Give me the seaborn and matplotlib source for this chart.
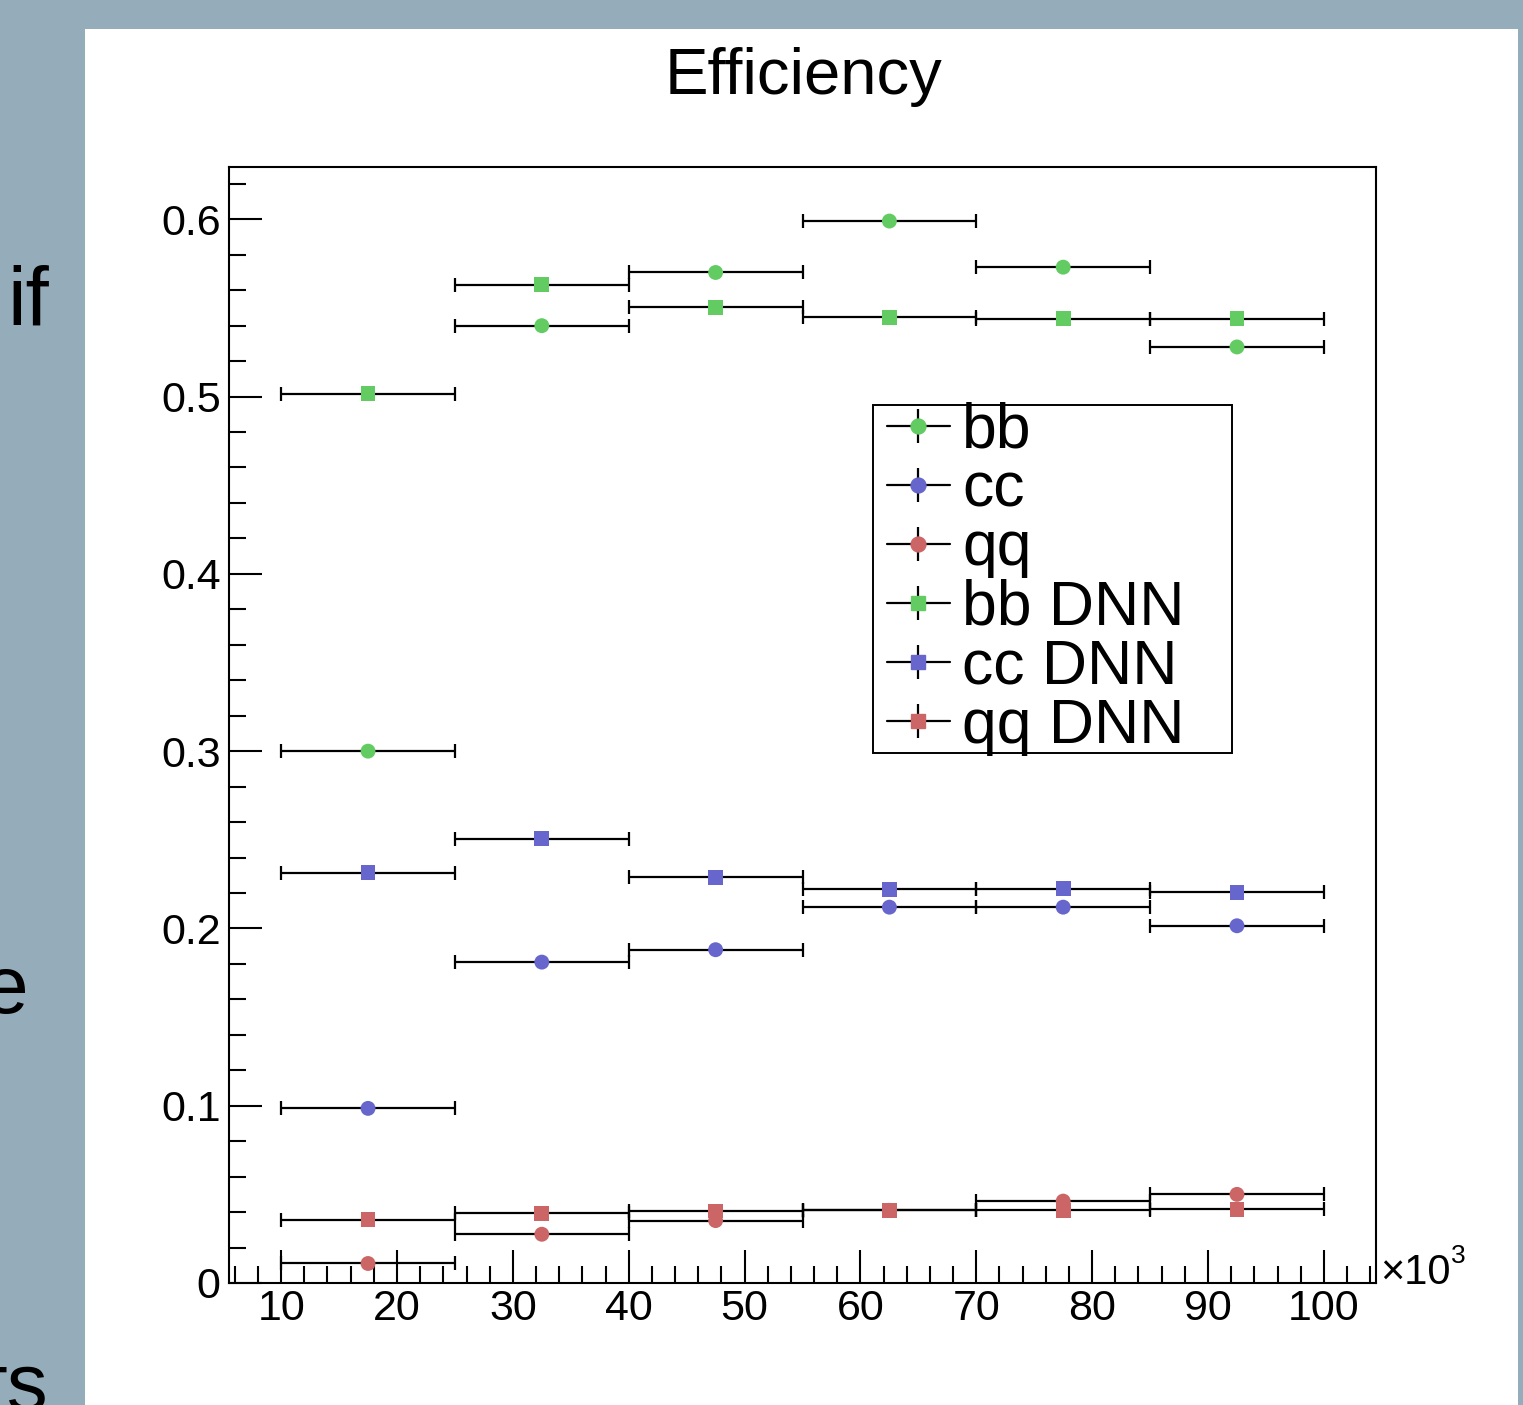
import numpy as np
import pandas as pd
import matplotlib.pyplot as plt
import seaborn as sns
from matplotlib.lines import Line2D
from matplotlib.patches import Rectangle
from matplotlib.legend_handler import HandlerTuple
from matplotlib.ticker import MultipleLocator, FuncFormatter

sns.set_theme(style='white')
plt.rcParams['font.family'] = ['Liberation Sans', 'DejaVu Sans']
plt.rcParams['text.color'] = 'black'

# x in units of 10^3
bin_edges = [10, 25, 40, 55, 70, 85, 100]

eff_bb = [0.300, 0.540, 0.570, 0.599, 0.573, 0.528]
eff_cc = [0.0985, 0.181, 0.188, 0.212, 0.212, 0.2015]
eff_qq = [0.011, 0.0275, 0.0352, 0.041, 0.0462, 0.0500]
eff_bb_dnn = [0.5015, 0.563, 0.5505, 0.5447, 0.544, 0.544]
eff_cc_dnn = [0.2315, 0.2507, 0.2289, 0.2222, 0.2224, 0.2204]
eff_qq_dnn = [0.0358, 0.0394, 0.0406, 0.0409, 0.0409, 0.0415]

labels = ['bb', 'cc', 'qq', 'bb DNN', 'cc DNN', 'qq DNN']
samples = ['bb', 'cc', 'qq', 'bb', 'cc', 'qq']
methods = ['cut', 'cut', 'cut', 'DNN', 'DNN', 'DNN']
series = [eff_bb, eff_cc, eff_qq, eff_bb_dnn, eff_cc_dnn, eff_qq_dnn]
colors = {'bb': '#62cc62', 'cc': '#6666cc', 'qq': '#cc6666'}
markers = {'cut': 'o', 'DNN': 's'}

edges = np.array(bin_edges, dtype=float)
centers = (edges[:-1] + edges[1:]) / 2
half_w = (edges[1:] - edges[:-1]) / 2

rows = []
for lab, smp, mth, vals in zip(labels, samples, methods, series):
    for xc, v in zip(centers, vals):
        rows.append({'x': xc, 'eff': v, 'sample': smp, 'method': mth, 'label': lab})
df = pd.DataFrame(rows)

W, H = 1523, 1405
fig = plt.figure(figsize=(W / 100, H / 100), dpi=100, facecolor='#95acbb')
fig.add_artist(Rectangle((85 / W, 0), (1518 - 85) / W, 1 - 29 / H,
                         transform=fig.transFigure, facecolor='white',
                         edgecolor='none', zorder=-1))

ax = fig.add_axes([229 / W, 1 - 1283 / H, (1376 - 229) / W, (1283 - 167) / H])
ax.set_facecolor('white')

for vals in series:
    ax.errorbar(centers, vals, xerr=half_w, fmt='none', ecolor='black',
                elinewidth=1.6, capsize=5, capthick=1.6, zorder=2)

sns.scatterplot(data=df, x='x', y='eff', hue='sample', style='method',
                palette=colors, markers=markers, s=115, linewidth=0,
                legend=False, ax=ax, zorder=3)

ax.set_xlim(5.5, 104.5)
ax.set_ylim(0, 0.6295)
ax.set_xlabel('')
ax.set_ylabel('')

ax.xaxis.set_major_locator(MultipleLocator(10))
ax.xaxis.set_minor_locator(MultipleLocator(2))
ax.yaxis.set_major_locator(MultipleLocator(0.1))
ax.yaxis.set_minor_locator(MultipleLocator(0.02))
ax.yaxis.set_major_formatter(FuncFormatter(lambda v, p: f'{v:g}'))
ax.xaxis.set_major_formatter(FuncFormatter(lambda v, p: f'{v:g}'))

ax.tick_params(which='both', direction='in', width=1.5, color='black',
               top=False, right=False, bottom=True, left=True)
ax.tick_params(which='major', length=24, labelsize=31, labelcolor='black')
ax.tick_params(which='minor', length=12)
ax.tick_params(axis='y', which='major', pad=6)
ax.tick_params(axis='x', which='major', pad=4)
for sp in ax.spines.values():
    sp.set_color('black')
    sp.set_linewidth(1.5)
ax.grid(False)

# legend
handles = []
for smp, mth in zip(samples, methods):
    vbar = Line2D([], [], color='black', marker='|', markersize=25,
                  markeredgewidth=1.6, linestyle='none')
    hline = Line2D([], [], color='black', linewidth=1.6, marker=markers[mth],
                   markersize=10.7, markerfacecolor=colors[smp],
                   markeredgecolor=colors[smp])
    handles.append((vbar, hline))

ax.add_patch(Rectangle((873 / W, 1 - 753 / H), 359 / W, 348 / H,
                       transform=fig.transFigure, facecolor='white',
                       edgecolor='black', linewidth=1.4, zorder=4))
leg = ax.legend(handles, labels, loc='center left',
                bbox_to_anchor=(887 / W, 1 - 578.5 / H),
                bbox_transform=fig.transFigure, frameon=False, fontsize=45,
                labelspacing=0.0, handlelength=1.0, handletextpad=0.2,
                borderpad=0, borderaxespad=0, labelcolor='black',
                handler_map={tuple: HandlerTuple(ndivide=1, pad=0)})
leg.set_zorder(5)

fig.text(803 / W, 1 - 94 / H, 'Efficiency', ha='center', va='baseline',
         fontsize=47, color='black')
fig.text(1380 / W, 1 - 1284 / H, '\u00d710', ha='left', va='baseline',
         fontsize=30, color='black')
fig.text(1451 / W, 1 - 1263 / H, '3', ha='left', va='baseline',
         fontsize=19, color='black')

# slide text peeking out behind the canvas
fig.text(7 / W, 1 - 326 / H, 'if', ha='left', va='baseline', fontsize=60,
         color='black', zorder=-2)
fig.text(28 / W, 1 - 1013 / H, 'e', ha='right', va='baseline', fontsize=59,
         color='black', zorder=-2)
fig.text(49 / W, 1 - 1410 / H, 'ts', ha='right', va='baseline', fontsize=59,
         color='black', zorder=-2)

fig.savefig('out.png', dpi=100, facecolor=fig.get_facecolor())
